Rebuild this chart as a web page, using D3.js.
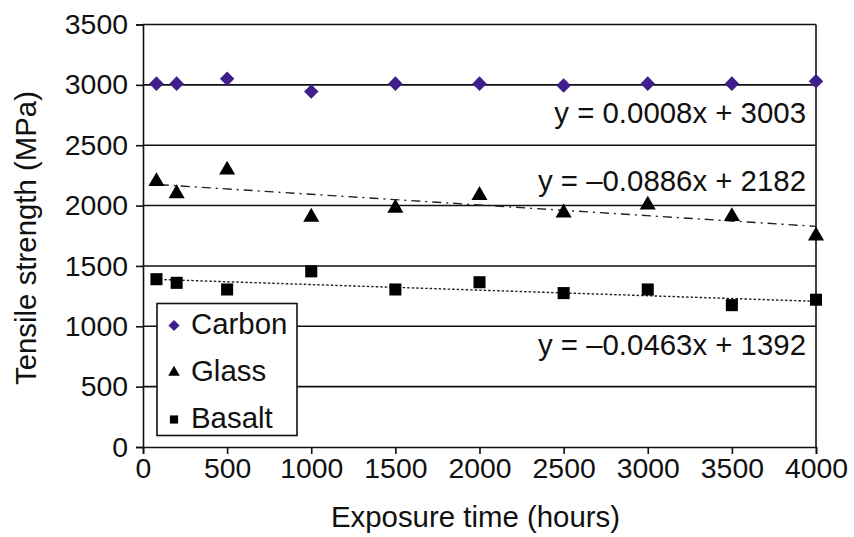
<!DOCTYPE html>
<html>
<head>
<meta charset="utf-8">
<script src="https://cdn.jsdelivr.net/npm/d3@7"></script>
<style>
    body { margin: 0; background: #fff; }
    svg text { font-family: "Liberation Sans", Arial, sans-serif; fill: #111; }
</style>
</head>
<body>
<svg id="chart" width="854" height="537"></svg>
<script>
// Exposure times (hours)
const hours = [80, 200, 500, 1000, 1500, 2000, 2500, 3000, 3500, 4000];

// Tensile strength (MPa)
const carbon = [3010, 3010, 3050, 2945, 3010, 3010, 2995, 3010, 3010, 3030];
const glass  = [2200, 2100, 2295, 1905, 1980, 2085, 1940, 2005, 1910, 1750];
const basalt = [1390, 1360, 1305, 1455, 1305, 1365, 1275, 1305, 1175, 1220];

// Linear trend lines: [slope, intercept]
const trendGlass  = [-0.0886, 2182];
const trendBasalt = [-0.0463, 1392];

const equations = ["y = 0.0008x + 3003", "y = \u20130.0886x + 2182", "y = \u20130.0463x + 1392"];
const equationY = [2770, 2212, 853];

const xTicks = [0, 500, 1000, 1500, 2000, 2500, 3000, 3500, 4000];
const yTicks = [0, 500, 1000, 1500, 2000, 2500, 3000, 3500];

const seriesNames = ["Carbon", "Glass", "Basalt"];

const svg = d3.select("#chart");
const margin = {left: 143, right: 38, top: 24.5, bottom: 90};
const width  = 854 - margin.left - margin.right;
const height = 537 - margin.top - margin.bottom;
const fontSize = 29.4;

const x = d3.scaleLinear().domain([0, 4000]).range([0, width]);
const y = d3.scaleLinear().domain([0, 3500]).range([height, 0]);

const g = svg.append("g").attr("transform", `translate(${margin.left},${margin.top})`);

// Horizontal grid lines
g.append("g")
    .selectAll("line")
    .data(yTicks.filter(d => d > 0))
    .join("line")
    .attr("x1", 0)
    .attr("x2", width)
    .attr("y1", d => y(d))
    .attr("y2", d => y(d))
    .attr("stroke", "#111")
    .attr("stroke-width", 1.6);

// Right border
g.append("line")
    .attr("x1", width).attr("x2", width)
    .attr("y1", 0).attr("y2", height)
    .attr("stroke", "#111")
    .attr("stroke-width", 1.6);

// Axes
const xAxis = g.append("g")
    .attr("transform", `translate(0,${height})`)
    .call(d3.axisBottom(x).tickValues(xTicks).tickSize(7).tickPadding(8).tickFormat(d3.format("d")));

const yAxis = g.append("g")
    .call(d3.axisLeft(y).tickValues(yTicks).tickSize(7).tickPadding(8).tickFormat(d3.format("d")));

[xAxis, yAxis].forEach(ax => {
    ax.select(".domain").attr("stroke", "#111").attr("stroke-width", 1.6);
    ax.selectAll(".tick line").attr("stroke", "#111").attr("stroke-width", 1.6);
    ax.selectAll(".tick text")
        .attr("font-size", 28.4)
        .attr("font-family", "Liberation Sans, Arial, sans-serif")
        .attr("fill", "#111");
});
xAxis.selectAll(".tick text").attr("dy", "0.71em").attr("y", 11);

// Trend lines
function trendLine(coef, dash)
{
    const x0 = 100, x1 = 4000;
    g.append("line")
        .attr("x1", x(x0)).attr("y1", y(coef[0] * x0 + coef[1]))
        .attr("x2", x(x1)).attr("y2", y(coef[0] * x1 + coef[1]))
        .attr("stroke", "#222")
        .attr("stroke-width", 1.4)
        .attr("stroke-dasharray", dash);
}
trendLine(trendGlass, "9,5,2,5");
trendLine(trendBasalt, "2.5,2");

// Markers
const diamond = d3.symbol().type(d3.symbolDiamond2).size(135);
const triangle = d3.symbol().type(d3.symbolTriangle2).size(185);
const square = d3.symbol().type(d3.symbolSquare2).size(185);

function addMarkers(values, gen, color)
{
    g.append("g")
        .selectAll("path")
        .data(values)
        .join("path")
        .attr("transform", (d, i) => `translate(${x(hours[i])},${y(d)})`)
        .attr("d", gen)
        .attr("fill", color);
}
addMarkers(carbon, diamond, "#401f8c");
addMarkers(glass, triangle, "#000");
addMarkers(basalt, square, "#000");

// Trend equations
g.append("g")
    .selectAll("text")
    .data(equations)
    .join("text")
    .attr("x", width - 10)
    .attr("y", (d, i) => y(equationY[i]))
    .attr("dy", "0.36em")
    .attr("text-anchor", "end")
    .attr("font-size", fontSize)
    .text(d => d);

// Legend
const legend = svg.append("g").attr("transform", "translate(157,303.5)");
legend.append("rect")
    .attr("width", 140)
    .attr("height", 132)
    .attr("fill", "#fff")
    .attr("stroke", "#111")
    .attr("stroke-width", 1.6);

const legendMarkers = [
    d3.symbol().type(d3.symbolDiamond2).size(80),
    d3.symbol().type(d3.symbolTriangle2).size(95),
    d3.symbol().type(d3.symbolSquare2).size(85)
];
const legendColors = ["#401f8c", "#000", "#000"];

const item = legend.selectAll("g.item")
    .data(seriesNames)
    .join("g")
    .attr("class", "item")
    .attr("transform", (d, i) => `translate(0,${20 + i * 47})`);

item.append("path")
    .attr("transform", "translate(17,2)")
    .attr("d", (d, i) => legendMarkers[i]())
    .attr("fill", (d, i) => legendColors[i]);

item.append("text")
    .attr("x", 34)
    .attr("y", 0)
    .attr("dy", "0.36em")
    .attr("font-size", fontSize)
    .text(d => d);

// Axis titles
svg.append("text")
    .attr("x", margin.left + width / 2 - 4)
    .attr("y", 527)
    .attr("text-anchor", "middle")
    .attr("font-size", fontSize)
    .text("Exposure time (hours)");

svg.append("text")
    .attr("transform", "translate(36,238) rotate(-90)")
    .attr("text-anchor", "middle")
    .attr("font-size", fontSize)
    .text("Tensile strength (MPa)");
</script>
</body>
</html>
